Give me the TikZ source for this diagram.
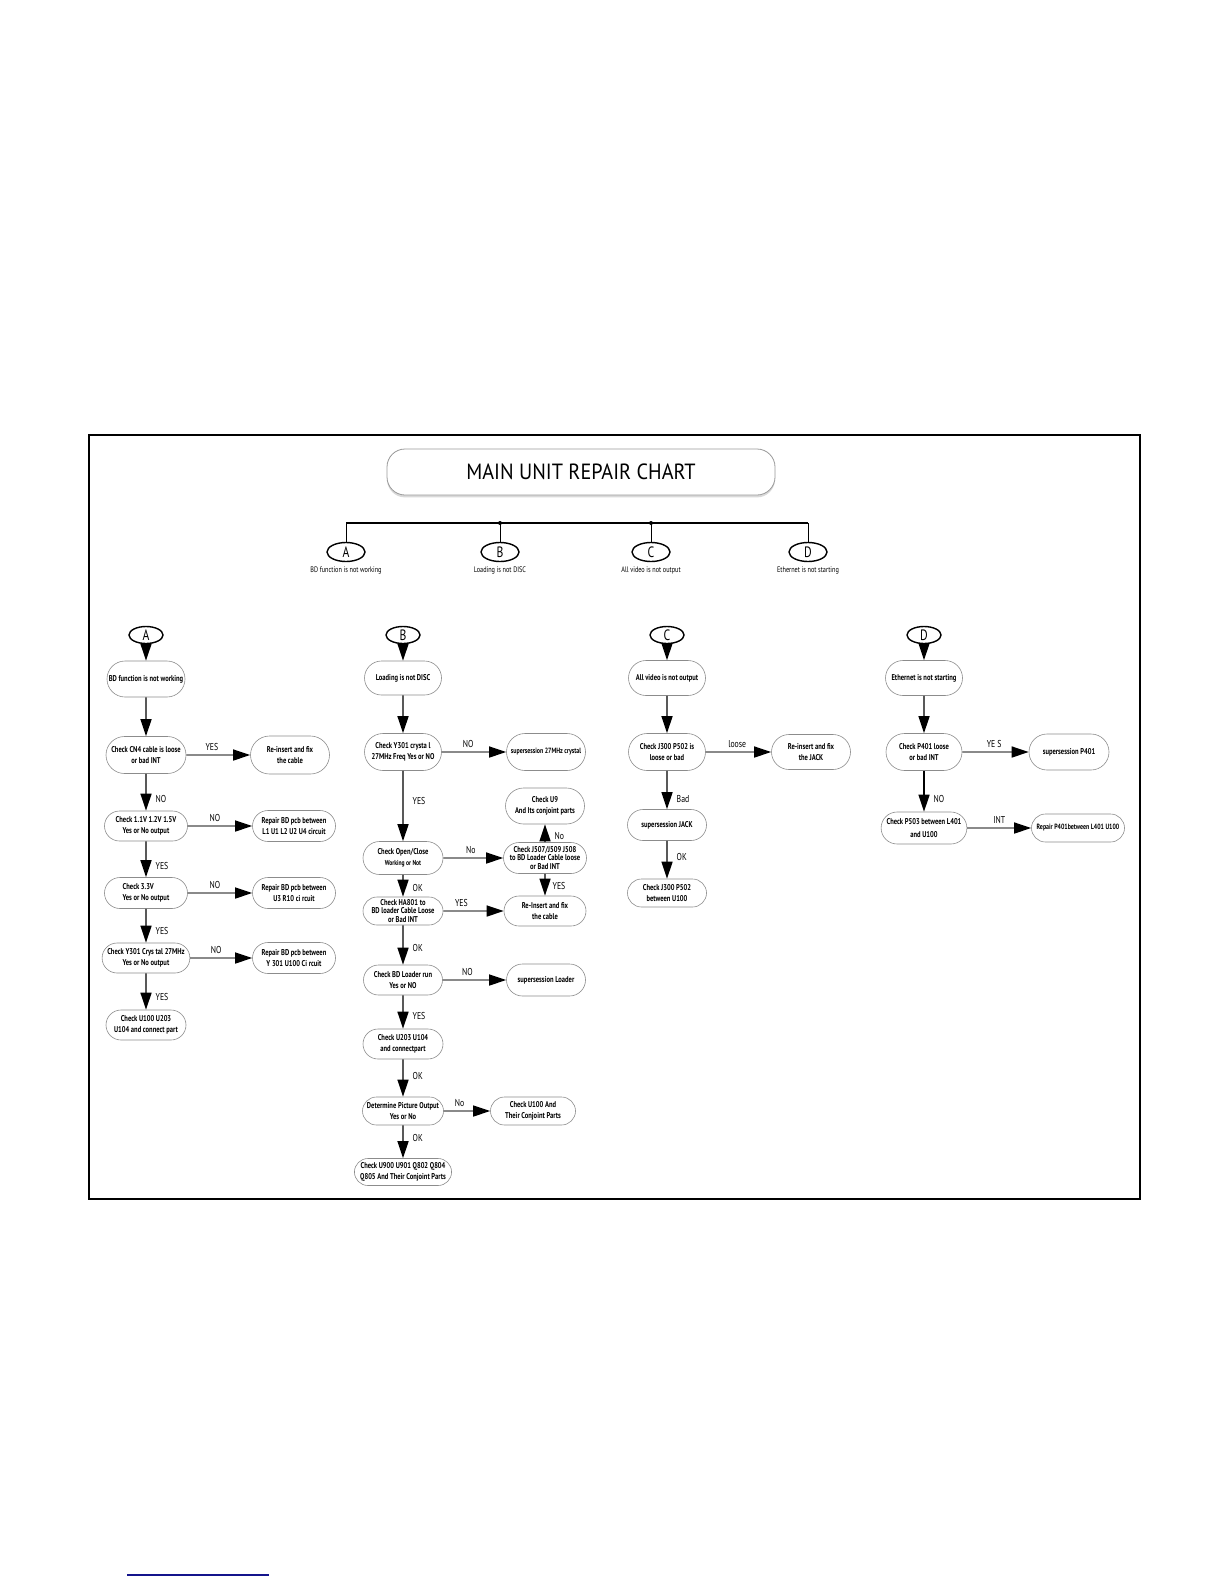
\documentclass[tikz,border=0pt]{standalone}
\usepackage{fontspec}
\setmainfont{PT Sans}
\newfontfamily\chartfont[FakeStretch=0.78]{PT Sans}
\newfontfamily\headfont[FakeStretch=0.92]{PT Sans}
\usetikzlibrary{arrows.meta, positioning, shapes.misc, shapes.geometric, shadows}
\definecolor{linkblue}{RGB}{20,20,140}

\begin{document}
\begin{tikzpicture}[
    x=0.5pt, y=-0.5pt,
    >={Triangle[length=8.5pt, width=5.5pt, color=black]},
    % Styles
    titlebox/.style={rectangle, rounded corners=9pt, draw=black!40, line width=0.4pt, fill=white, minimum width=194pt, minimum height=23pt, font=\headfont\fontsize{11}{12}\selectfont, drop shadow={shadow xshift=0pt, shadow yshift=-1.2pt, opacity=0.25, fill=black!60}},
    stepbox/.style={rounded rectangle, draw=black!45, line width=0.3pt, minimum width=41pt, minimum height=17pt, inner sep=1pt, align=center, font=\chartfont\bfseries\fontsize{4.2}{5.4}\selectfont},
    smallbox/.style={stepbox, font=\chartfont\bfseries\fontsize{3.8}{5}\selectfont},
    letter/.style={ellipse, draw=black, line width=0.7pt, minimum width=17pt, minimum height=8.5pt, inner sep=0pt, font=\chartfont\fontsize{7.5}{8}\selectfont},
    caption/.style={inner sep=1pt, font=\chartfont\fontsize{4}{5}\selectfont},
    flow/.style={->, line width=0.7pt},
    sideflow/.style={->, line width=0.7pt, draw=black!70},
    answer/.style={inner sep=1pt, text=black, font=\chartfont\fontsize{5}{5}\selectfont},
    sidelabel/.style={answer, right, xshift=3.5pt},
    toplabel/.style={answer, above, yshift=1pt}
]
\useasboundingbox (0,0) rectangle (1224,1584);

% --- Frame and title ---
\draw[line width=0.6pt] (89,435) rectangle (1140,1199);
\node[titlebox] (title) at (581,472) {MAIN UNIT REPAIR CHART};

% --- Branch bus ---
\coordinate (busL) at (346,523);
\coordinate (busR) at (808,523);
\node[letter, minimum width=19pt, minimum height=9.5pt] (topA) at (346,552) {A};
\node[letter, minimum width=19pt, minimum height=9.5pt] (topB) at (500,552) {B};
\node[letter, minimum width=19pt, minimum height=9.5pt] (topC) at (651,552) {C};
\node[letter, minimum width=19pt, minimum height=9.5pt] (topD) at (808,552) {D};
\node[caption, below=1pt of topA] (capA) {BD function is not working};
\node[caption, below=1pt of topB] (capB) {Loading is not DISC};
\node[caption, below=1pt of topC] (capC) {All video is not output};
\node[caption, below=1pt of topD] (capD) {Ethernet is not starting};
\draw[line width=0.8pt] (busL) -- (busR);
\draw[line width=0.5pt] (topA.north) -- (topA.north |- busL);
\draw[line width=0.5pt] (topB.north) -- (topB.north |- busL);
\draw[line width=0.5pt] (topC.north) -- (topC.north |- busL);
\draw[line width=0.5pt] (topD.north) -- (topD.north |- busL);
\fill (topB.north |- busL) circle (1pt);
\fill (topC.north |- busL) circle (1pt);

% --- A: BD function ---
\node[letter] (cA) at (146,635) {A};
\node[stepbox, minimum height=18pt] (a1) at (146,679) {BD function is not working};
\node[stepbox, minimum width=42pt, minimum height=18.5pt] (a2) at (146,755) {Check CN4 cable is loose\\or bad INT};
\node[stepbox, minimum width=41.5pt, minimum height=19pt] (a2r) at (290,755) {Re-insert and fix\\the cable};
\node[stepbox, minimum width=43.5pt, minimum height=15pt] (a3) at (146,826) {Check 1.1V 1.2V 1.5V\\Yes or No output};
\node[stepbox, minimum width=43.5pt, minimum height=15.5pt] (a3r) at (294,826) {Repair BD pcb between\\L1 U1 L2 U2 U4 circuit};
\node[stepbox, minimum width=43.5pt, minimum height=15.5pt, align=left] (a4) at (146,893) {Check 3.3V\\Yes or No output};
\node[stepbox, minimum width=43.5pt, minimum height=15.5pt] (a4r) at (294,893) {Repair BD pcb between\\U3 R10 ci rcuit};
\node[stepbox, minimum width=43.5pt, minimum height=15pt] (a5) at (146,958) {Check Y301 Crys tal 27MHz\\Yes or No output};
\node[stepbox, minimum width=43.5pt, minimum height=15.5pt] (a5r) at (294,958) {Repair BD pcb between\\Y 301 U100 Ci rcuit};
\node[stepbox, minimum width=42pt, minimum height=15pt] (a6) at (146,1025) {Check U100 U203\\U104 and connect part};

\draw[flow] (cA) -- (a1);
\draw[flow] (a1) -- (a2);
\draw[sideflow] (a2) -- node[toplabel, pos=0.4] (lA1) {YES} (a2r);
\draw[flow] (a2) -- node[sidelabel, pos=0.68] (lA2) {NO} (a3);
\draw[sideflow] (a3) -- node[toplabel, pos=0.42] (lA3) {NO} (a3r);
\draw[flow] (a3) -- node[sidelabel, pos=0.68] (lA4) {YES} (a4);
\draw[sideflow] (a4) -- node[toplabel, pos=0.42] (lA5) {NO} (a4r);
\draw[flow] (a4) -- node[sidelabel, pos=0.65] (lA6) {YES} (a5);
\draw[sideflow] (a5) -- node[toplabel, pos=0.42] (lA7) {NO} (a5r);
\draw[flow] (a5) -- node[sidelabel, pos=0.65] (lA8) {YES} (a6);

% --- B: Loading ---
\node[letter] (cB) at (403,635) {B};
\node[stepbox, minimum width=40.5pt] (b1) at (403,678) {Loading is not DISC};
\node[stepbox, minimum width=40.5pt, minimum height=18.5pt] (b2) at (403,752) {Check Y301 crysta l\\27MHz Freq Yes or NO};
\node[smallbox, minimum width=41.5pt, minimum height=18.5pt] (b2r) at (546,752) {supersession 27MHz crystal};
\node[stepbox, minimum width=42pt, minimum height=16.5pt] (b3) at (403,858) {Check Open/Close\\{\fontsize{3.6}{5}\selectfont Working or Not}};
\node[stepbox, minimum width=43.5pt, minimum height=15.5pt, font=\chartfont\bfseries\fontsize{4.2}{4.4}\selectfont] (b3r) at (545,858) {Check J507/J509 J508\\to BD Loader Cable loose\\or Bad INT};
\node[stepbox, minimum width=41.5pt, minimum height=18pt] (b3u) at (545,806) {Check U9\\And Its conjoint parts};
\node[stepbox, minimum width=42pt, minimum height=14pt, font=\chartfont\bfseries\fontsize{4.2}{4.4}\selectfont] (b4) at (403,911) {Check HA801 to\\BD loader Cable Loose\\or Bad INT};
\node[stepbox, minimum width=43pt, minimum height=15pt] (b4r) at (545,911) {Re-Insert and fix\\the cable};
\node[stepbox, minimum width=41.5pt, minimum height=15pt] (b5) at (403,980) {Check BD Loader run\\Yes or NO};
\node[stepbox, minimum width=41.5pt, minimum height=16pt] (b5r) at (546,980) {supersession Loader};
\node[stepbox, minimum width=42pt, minimum height=15pt] (b6) at (403,1044) {Check U203 U104\\and connectpart};
\node[stepbox, minimum width=42.5pt, minimum height=14pt] (b7) at (403,1111) {Determine Picture Output\\Yes or No};
\node[stepbox, minimum width=44.5pt, minimum height=14pt] (b7r) at (533,1111) {Check U100 And\\Their Conjoint Parts};
\node[stepbox, minimum width=45pt, minimum height=13.5pt] (b8) at (403,1172) {Check U900 U901 Q802 Q804\\Q805 And Their Conjoint Parts};

\draw[flow] (cB) -- (b1);
\draw[flow] (b1) -- (b2);
\draw[sideflow] (b2) -- node[toplabel, pos=0.41] (lB1) {NO} (b2r);
\draw[flow] (b2) -- node[sidelabel, pos=0.43] (lB2) {YES} (b3);
\draw[sideflow] (b3) -- node[toplabel, pos=0.46] (lB3) {No} (b3r);
\draw[flow] (b3r) -- node[sidelabel, pos=0.35] (lB4) {No} (b3u);
\draw[flow] (b3r) -- node[sidelabel, pos=0.55, xshift=-1pt] (lB5) {YES} (b4r);
\draw[flow] (b3) -- node[sidelabel, pos=0.6] (lB6) {OK} (b4);
\draw[sideflow] (b4) -- node[toplabel, pos=0.3] (lB7) {YES} (b4r);
\draw[flow] (b4) -- node[sidelabel, pos=0.58] (lB8) {OK} (b5);
\draw[sideflow] (b5) -- node[toplabel, pos=0.39] (lB9) {NO} (b5r);
\draw[flow] (b5) -- node[sidelabel, pos=0.62] (lB10) {YES} (b6);
\draw[flow] (b6) -- node[sidelabel, pos=0.45] (lB11) {OK} (b7);
\draw[sideflow] (b7) -- node[toplabel, pos=0.34] (lB12) {No} (b7r);
\draw[flow] (b7) -- node[sidelabel, pos=0.4] (lB13) {OK} (b8);

% --- C: Video ---
\node[letter] (cC) at (667,635) {C};
\node[stepbox, minimum width=40.5pt, minimum height=17.5pt] (c1) at (667,678) {All video is not output};
\node[stepbox, minimum width=40.5pt, minimum height=18.5pt] (c2) at (667,752) {Check J300 P502 is\\loose or bad};
\node[stepbox, minimum width=41.5pt, minimum height=17.5pt] (c2r) at (811,752) {Re-insert and fix\\the JACK};
\node[stepbox, minimum width=41.5pt, minimum height=15.5pt] (c3) at (667,825) {supersession JACK};
\node[stepbox, minimum width=41.5pt, minimum height=14pt] (c4) at (667,893) {Check J300 P502\\between U100};

\draw[flow] (cC) -- (c1);
\draw[flow] (c1) -- (c2);
\draw[sideflow] (c2) -- node[toplabel, pos=0.48] (lC1) {loose} (c2r);
\draw[flow] (c2) -- node[sidelabel, pos=0.73] (lC2) {Bad} (c3);
\draw[flow] (c3) -- node[sidelabel, pos=0.43] (lC3) {OK} (c4);

% --- D: Ethernet ---
\node[letter] (cD) at (924,635) {D};
\node[stepbox, minimum width=40.5pt, minimum height=17.5pt] (d1) at (924,678) {Ethernet is not starting};
\node[stepbox, minimum width=40pt, minimum height=18.5pt] (d2) at (924,752) {Check P401 loose\\or bad INT};
\node[stepbox, minimum width=42pt, minimum height=18pt] (d2r) at (1069,752) {supersession P401};
\node[stepbox, minimum width=40.5pt, minimum height=16pt] (d3) at (924,828) {Check P503 between L401\\[1.5pt]and U100};
\node[smallbox, minimum width=48.5pt, minimum height=14pt] (d3r) at (1078,828) {Repair P401between L401 U100};

\draw[flow] (cD) -- (d1);
\draw[flow] (d1) -- (d2);
\draw[sideflow] (d2) -- node[toplabel, pos=0.48] (lD1) {YE S} (d2r);
\draw[flow] (d2) -- node[sidelabel, pos=0.69] (lD2) {NO} (d3);
\draw[sideflow] (d3) -- node[toplabel, pos=0.5] (lD3) {INT} (d3r);

% --- Footer link line ---
\draw[linkblue, line width=0.6pt] (127,1575) -- (269,1575);

\end{tikzpicture}
\end{document}
